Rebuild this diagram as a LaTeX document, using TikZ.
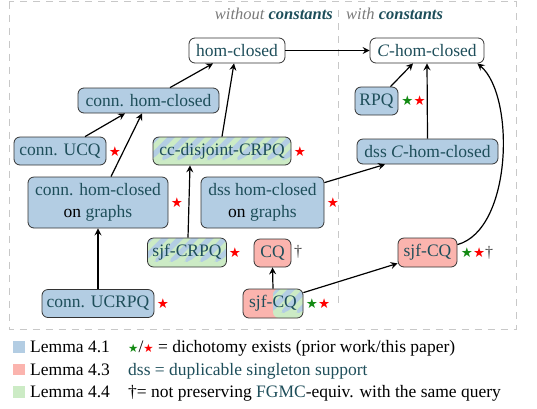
\documentclass[tikz,border=0pt]{standalone}
\usepackage{fontspec}
\setmainfont{Liberation Serif}
\newfontfamily\symfont{DejaVu Sans}
\usetikzlibrary{arrows.meta}
\definecolor{tealt}{RGB}{30,78,90}
\definecolor{bluef}{HTML}{B3CDE3}
\definecolor{pinkf}{HTML}{FBB4AE}
\definecolor{greenf}{HTML}{CCEBC5}
\definecolor{framec}{HTML}{C8C8C8}
\definecolor{starg}{HTML}{138A13}
\definecolor{grayt}{HTML}{7A7A7A}
\newcommand{\tl}[1]{\textcolor{tealt}{#1}}
\newcommand{\rs}{\textcolor{red}{\symfont ★}}
\newcommand{\gs}{\textcolor{starg}{\symfont ★}}
\tikzset{
  box/.style={draw=black!80, rounded corners=6pt, line width=0.8pt, inner sep=0pt,
    font=\fontsize{17.5}{22}\selectfont, text=tealt, align=center},
  bluebox/.style={box, fill=bluef},
  pinkbox/.style={box, fill=pinkf},
  stripebox/.style={box, fill=greenf, path picture={
    \begin{scope}[shift={(path picture bounding box.south west)}]
      \foreach \k in {-6,...,12} {\fill[bluef] (\k*15pt,-5pt) -- ++(7.5pt,0pt) -- ++(70pt,70pt) -- ++(-7.5pt,0pt) -- cycle;}
    \end{scope}}},
  halfbox/.style={box, fill=pinkf, path picture={
    \clip (path picture bounding box.south) rectangle (path picture bounding box.north east);
    \fill[greenf] (path picture bounding box.south) rectangle (path picture bounding box.north east);
    \begin{scope}[shift={(path picture bounding box.south west)}]
      \foreach \k in {-6,...,8} {\fill[bluef] (\k*15pt,-5pt) -- ++(7.5pt,0pt) -- ++(70pt,70pt) -- ++(-7.5pt,0pt) -- cycle;}
    \end{scope}}},
  arr/.style={-{Stealth[length=7pt,width=7pt,inset=2.5pt]}, line width=1.2pt, black},
  starlab/.style={inner sep=0pt, font=\fontsize{13.5}{15}\selectfont},
  legtext/.style={inner sep=0pt, anchor=base west, font=\fontsize{17.5}{20}\selectfont},
  head/.style={inner sep=0pt, font=\fontsize{16.5}{20}\selectfont\itshape},
}
\begin{document}
\begin{tikzpicture}[x=1pt,y=-1pt]
\useasboundingbox (0,0) rectangle (537,408);
% frame
\draw[framec, line width=0.8pt, dash pattern=on 7pt off 6pt] (9,1.5) rectangle (516,329);
\draw[framec, line width=0.8pt, dash pattern=on 7pt off 6pt] (338.5,10) -- (338.5,308);
% headers
\node[head, anchor=base east] (h1) at (333,19) {\textcolor{grayt}{without} \textcolor{tealt}{\bfseries constants}};
\node[head, anchor=base west] (h2) at (346,19) {\textcolor{grayt}{with} \textcolor{tealt}{\bfseries constants}};
% nodes
\node[box, fill=white, minimum width=96pt, minimum height=25pt] (hc) at (237,50.5) {hom-closed};
\node[box, fill=white, minimum width=114pt, minimum height=25pt] (chc) at (427,50.5) {\textit{C}-hom-closed};
\node[bluebox, minimum width=141pt, minimum height=25pt] (ch) at (148.5,100.5) {conn. hom-closed};
\node[bluebox, minimum width=43pt, minimum height=28pt] (rpq) at (376.5,101) {RPQ};
\node[bluebox, minimum width=92pt, minimum height=28pt] (ucq) at (60,151) {conn. UCQ};
\node[stripebox, minimum width=138pt, minimum height=28pt] (ccd) at (222,151) {cc-disjoint-CRPQ};
\node[bluebox, minimum width=141pt, minimum height=25pt] (dssc) at (427.5,151.5) {dss \textit{C}-hom-closed};
\node[bluebox, minimum width=140pt, minimum height=51pt] (cg) at (98,202.5) {conn. hom-closed\\\textcolor{black}{on} graphs};
\node[bluebox, minimum width=123pt, minimum height=51pt] (dg) at (262.5,202.5) {dss hom-closed\\\textcolor{black}{on} graphs};
\node[stripebox, minimum width=79pt, minimum height=29pt] (sjfcrpq) at (187,252.5) {sjf-CRPQ};
\node[pinkbox, minimum width=37pt, minimum height=28pt] (cq) at (272.5,253) {CQ};
\node[pinkbox, minimum width=59pt, minimum height=29pt] (sjfcqb) at (427.5,252.5) {sjf-CQ};
\node[bluebox, minimum width=112pt, minimum height=28pt] (ucrpq) at (98,303.5) {conn. UCRPQ};
\node[halfbox, minimum width=60pt, minimum height=29pt] (sjfcq) at (273,303.5) {sjf-CQ};
% marks
\node[starlab] (m1) at (413.5,101) {\gs\rs};
\node[starlab] (m2) at (115,152) {\rs};
\node[starlab] (m3) at (300,152) {\rs};
\node[starlab] (m4) at (177,203) {\rs};
\node[starlab] (m5) at (333,203) {\rs};
\node[starlab] (m6) at (235,253) {\rs};
\node[inner sep=0pt, font=\fontsize{16}{18}\selectfont, text=black!75] (m7) at (298,252) {†};
\node[starlab] (m8) at (477,253) {\gs\rs\fontsize{16}{18}\selectfont\textcolor{black!75}{†}};
\node[starlab] (m9) at (163,304) {\rs};
\node[starlab] (m10) at (318,304) {\gs\rs};
% edges
\draw[arr] ([xshift=21.5pt]ch.north) -- ([xshift=-24pt]hc.south);
\draw[arr] (ccd.north) -- ([xshift=-3pt]hc.south);
\draw[arr] ([xshift=25pt]ucq.north) -- ([xshift=-23.5pt]ch.south);
\draw[arr] ([xshift=13pt]cg.north) -- ([xshift=-6.5pt]ch.south);
\draw[arr] (ucrpq.north) -- (cg.south);
\draw[arr] ([xshift=1pt]sjfcrpq.north) -- ([xshift=-32pt]ccd.south);
\draw[arr] (hc.east) -- (chc.west);
\draw[arr] ([xshift=14pt]rpq.north) -- ([xshift=-14pt]chc.south);
\draw[arr] (dssc.north) -- (chc.south);
\draw[arr] ([yshift=-6pt]dg.north east) -- ([xshift=-42.5pt]dssc.south);
\draw[arr] (sjfcq.north) -- (cq.south);
\draw[arr] ([yshift=-4pt]sjfcq.north east) -- ([yshift=4pt]sjfcqb.south west);
\draw[arr] ([yshift=-7pt]sjfcqb.north east) .. controls +(55,-15) and +(38,32) .. ([xshift=-7pt]chc.south east);
% legend
\fill[bluef] (13,341) rectangle (25,352.5);
\fill[pinkf] (13,363.5) rectangle (25,375);
\fill[greenf] (13,386) rectangle (25,397.5);
\node[legtext] (l1) at (30,352.5) {Lemma 4.1};
\node[legtext] (l2) at (30,375) {Lemma 4.3};
\node[legtext] (l3) at (30,397.5) {Lemma 4.4};
\node[legtext] (r1) at (128,352.5) {{\fontsize{11.5}{12}\selectfont\gs}/{\fontsize{11.5}{12}\selectfont\rs} = dichotomy exists (prior work/this paper)};
\node[legtext] (r2) at (128,375) {\tl{dss = duplicable singleton support}};
\node[legtext] (r3) at (128,397.5) {†= not preserving \tl{FGMC}-equiv. with the same query};
\end{tikzpicture}
\end{document}
